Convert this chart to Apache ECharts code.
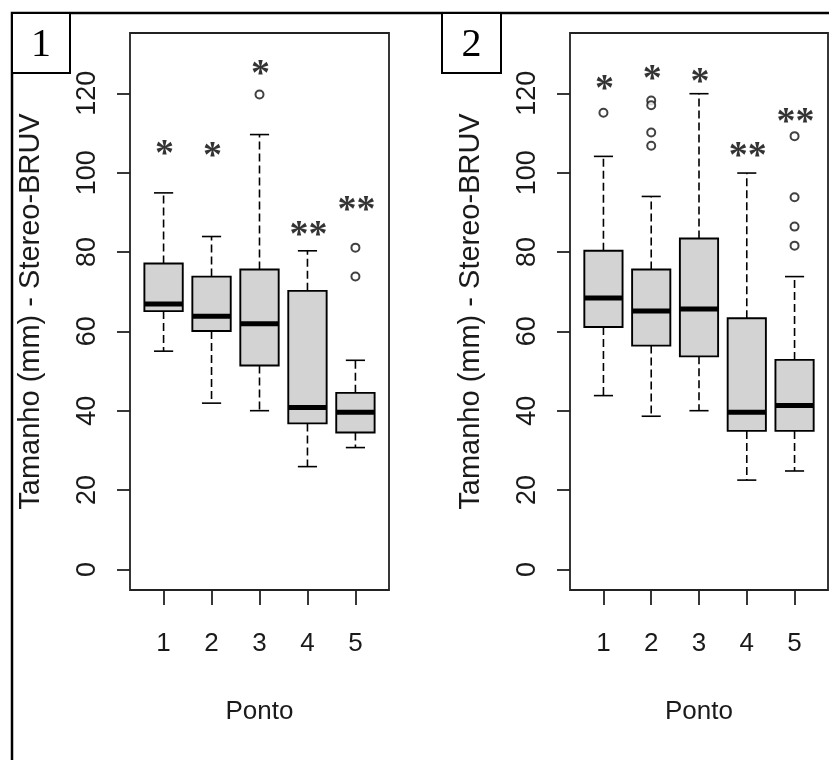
<!DOCTYPE html>
<html><head><meta charset="utf-8">
<script src="https://cdn.jsdelivr.net/npm/echarts@6/dist/echarts.min.js"></script>
<style>html,body{margin:0;padding:0;background:#fff}#c{width:829px;height:760px}</style>
</head><body><div id="c"></div>
<script>
// ---- data ----
const positions = [1, 2, 3, 4, 5];
const xTickLabels = ['1', '2', '3', '4', '5'];
const yTickValues = [0, 20, 40, 60, 80, 100, 120];
const yTitle = 'Tamanho (mm) - Stereo-BRUV';
const xTitle = 'Ponto';
const panelLabels = ['1', '2'];

// Panel 1
const p1Min = [55.0, 41.9, 40.0, 25.9, 30.7];
const p1Q1  = [65.1, 60.1, 51.4, 36.8, 34.5];
const p1Med = [66.9, 63.8, 61.9, 40.8, 39.6];
const p1Q3  = [77.1, 73.8, 75.6, 70.2, 44.5];
const p1Max = [94.9, 83.9, 109.6, 80.3, 52.7];
const p1OutX = [3, 5, 5];
const p1OutY = [119.7, 81.1, 73.8];
const p1Marks = ['*', '*', '*', '**', '**'];
const p1MarkY = [105.8, 105.3, 126.1, 85.6, 91.9];

// Panel 2
const p2Min = [43.8, 38.6, 40.0, 22.5, 24.8];
const p2Q1  = [61.1, 56.4, 53.7, 34.9, 34.9];
const p2Med = [68.4, 65.1, 65.6, 39.6, 41.3];
const p2Q3  = [80.3, 75.6, 83.4, 63.3, 52.8];
const p2Max = [104.1, 94.0, 119.9, 99.9, 73.8];
const p2OutX = [1, 2, 2, 2, 2, 5, 5, 5, 5];
const p2OutY = [115.1, 118.2, 117.0, 110.1, 106.8, 109.2, 93.8, 86.4, 81.6];
const p2Marks = ['*', '*', '*', '**', '**'];
const p2MarkY = [122.3, 124.8, 124.0, 105.3, 113.9];

// ---- chart ----
const FONT = "'Liberation Sans', Arial, sans-serif";
const SERIF = "'Liberation Serif', 'Times New Roman', serif";
const TXT = '#1a1a1a';

function boxData(mn, q1, md, q3, mx) {
  return positions.map((x, i) => [x, mn[i], q1[i], md[i], q3[i], mx[i]]);
}
function renderBox(params, api) {
  const x = api.value(0);
  const mn = api.coord([x, api.value(1)]);
  const q1 = api.coord([x, api.value(2)]);
  const md = api.coord([x, api.value(3)]);
  const q3 = api.coord([x, api.value(4)]);
  const mx = api.coord([x, api.value(5)]);
  const hw = api.size([0.4, 0])[0];
  const sw = api.size([0.2, 0])[0];
  const cx = mn[0];
  const dash = { stroke: '#000', lineWidth: 1.6, lineDash: [8, 4] };
  const solid = { stroke: '#000', lineWidth: 1.6 };
  return {
    type: 'group',
    children: [
      { type: 'line', shape: { x1: cx, y1: q3[1], x2: cx, y2: mx[1] }, style: dash },
      { type: 'line', shape: { x1: cx, y1: q1[1], x2: cx, y2: mn[1] }, style: dash },
      { type: 'line', shape: { x1: cx - sw, y1: mx[1], x2: cx + sw, y2: mx[1] }, style: solid },
      { type: 'line', shape: { x1: cx - sw, y1: mn[1], x2: cx + sw, y2: mn[1] }, style: solid },
      { type: 'rect', shape: { x: cx - hw, y: q3[1], width: 2 * hw, height: q1[1] - q3[1] },
        style: { fill: '#d3d3d3', stroke: '#000', lineWidth: 1.9 } },
      { type: 'line', shape: { x1: cx - hw, y1: md[1], x2: cx + hw, y2: md[1] },
        style: { stroke: '#000', lineWidth: 5 } }
    ]
  };
}

function xAxisFor(idx) {
  return {
    type: 'value', gridIndex: idx, min: 0.3, max: 5.7,
    axisLine: { show: false, onZero: false },
    axisTick: { show: true, inside: false, length: 15, customValues: positions,
      lineStyle: { color: '#222', width: 1.8 } },
    axisLabel: { show: true, customValues: positions, margin: 41,
      formatter: v => xTickLabels[Math.round(v) - 1],
      fontFamily: FONT, fontSize: 26, color: TXT },
    splitLine: { show: false },
    name: xTitle, nameLocation: 'middle', nameGap: 109,
    nameTextStyle: { fontFamily: FONT, fontSize: 26, color: TXT }
  };
}
function yAxisFor(idx) {
  return {
    type: 'value', gridIndex: idx, min: -5.2, max: 135.2,
    axisLine: { show: false, onZero: false },
    axisTick: { show: true, inside: false, length: 13, customValues: yTickValues,
      lineStyle: { color: '#222', width: 1.8 } },
    axisLabel: { show: true, customValues: yTickValues, rotate: 90, margin: 29,
      fontFamily: FONT, fontSize: 27, color: TXT },
    splitLine: { show: false },
    name: yTitle, nameLocation: 'middle', nameGap: 85,
    nameTextStyle: { fontFamily: FONT, fontSize: 29, color: TXT }
  };
}
function seriesFor(idx, mn, q1, md, q3, mx, ox, oy, marks, markY) {
  return [
    { type: 'custom', xAxisIndex: idx, yAxisIndex: idx, renderItem: renderBox,
      encode: { x: 0, y: [1, 2, 3, 4, 5] }, data: boxData(mn, q1, md, q3, mx), z: 2 },
    { type: 'scatter', xAxisIndex: idx, yAxisIndex: idx, symbol: 'emptyCircle', symbolSize: 8,
      itemStyle: { color: '#111', borderWidth: 1.3 },
      data: ox.map((x, i) => [x, oy[i]]), z: 3 },
    { type: 'scatter', xAxisIndex: idx, yAxisIndex: idx, symbol: 'circle', symbolSize: 1,
      itemStyle: { color: 'rgba(0,0,0,0)' },
      label: { show: true, position: 'inside', offset: [1, 6], formatter: p => p.name,
        fontFamily: SERIF, fontWeight: 'bold', fontSize: 38, color: '#000' },
      data: positions.map((x, i) => ({ name: marks[i], value: [x, markY[i]] })), z: 4 }
  ];
}

const chart = echarts.init(document.getElementById('c'), null, { renderer: 'canvas' });
chart.setOption({
  backgroundColor: '#fff',
  animation: false,
  grid: [
    { left: 130, top: 33, width: 259, height: 557, show: true, borderColor: '#222', borderWidth: 1.8, backgroundColor: 'transparent' },
    { left: 570, top: 33, width: 258, height: 557, show: true, borderColor: '#222', borderWidth: 1.8, backgroundColor: 'transparent' }
  ],
  xAxis: [xAxisFor(0), xAxisFor(1)],
  yAxis: [yAxisFor(0), yAxisFor(1)],
  series: [
    ...seriesFor(0, p1Min, p1Q1, p1Med, p1Q3, p1Max, p1OutX, p1OutY, p1Marks, p1MarkY),
    ...seriesFor(1, p2Min, p2Q1, p2Med, p2Q3, p2Max, p2OutX, p2OutY, p2Marks, p2MarkY)
  ],
  graphic: [
    { type: 'polyline', shape: { points: [[12, 760], [12, 13], [829, 13]] },
      style: { stroke: '#000', lineWidth: 2.5, fill: null } },
    { type: 'rect', shape: { x: 12, y: 13, width: 58, height: 60 },
      style: { stroke: '#000', lineWidth: 2, fill: '#fff' } },
    { type: 'text', x: 41, y: 45, style: { text: panelLabels[0], align: 'center', verticalAlign: 'middle',
      font: "40px 'Liberation Serif', serif", fill: '#000' } },
    { type: 'rect', shape: { x: 442, y: 13, width: 59, height: 60 },
      style: { stroke: '#000', lineWidth: 2, fill: '#fff' } },
    { type: 'text', x: 471.5, y: 45, style: { text: panelLabels[1], align: 'center', verticalAlign: 'middle',
      font: "40px 'Liberation Serif', serif", fill: '#000' } }
  ]
});
</script></body></html>
